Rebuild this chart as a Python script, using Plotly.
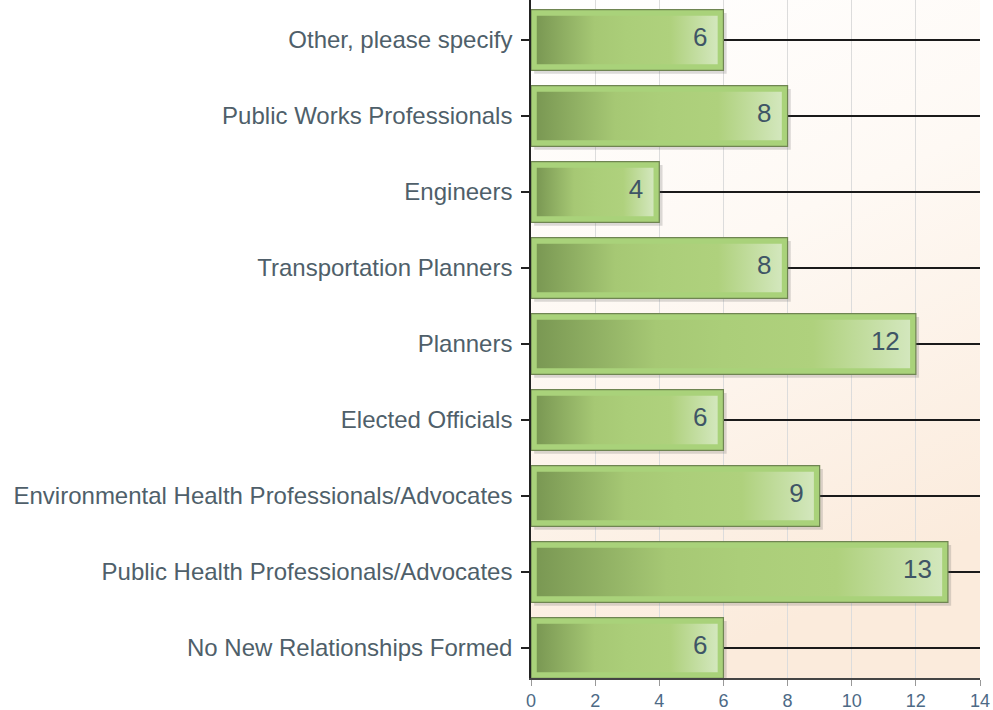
import base64
import plotly.graph_objects as go

# categories bottom -> top, as they appear on the chart
categorias = [
    "No New Relationships Formed",
    "Public Health Professionals/Advocates",
    "Environmental Health Professionals/Advocates",
    "Elected Officials",
    "Planners",
    "Transportation Planners",
    "Engineers",
    "Public Works Professionals",
    "Other, please specify",
]
valores = [6, 13, 9, 6, 12, 8, 4, 8, 6]
ticks_x = [0, 2, 4, 6, 8, 10, 12, 14]

posicoes = list(range(len(categorias)))

COR_TEXTO = "#4f5f6a"
FONTE = "Liberation Sans, Arial, sans-serif"
LARGURA_BARRA = 0.8
INSET_X = 0.18   # ~6px
INSET_Y = 0.08   # ~6px

# fundo em degradê (branco -> pêssego) como imagem svg
svg = (
    "<svg xmlns='http://www.w3.org/2000/svg' width='100' height='100' preserveAspectRatio='none'>"
    "<defs><linearGradient id='g' x1='0' y1='0' x2='0.3' y2='1'>"
    "<stop offset='0' stop-color='#ffffff'/>"
    "<stop offset='0.45' stop-color='#fef9f4'/>"
    "<stop offset='1' stop-color='#fbebdc'/>"
    "</linearGradient></defs>"
    "<rect width='100' height='100' fill='url(#g)'/></svg>"
)
fundo = "data:image/svg+xml;base64," + base64.b64encode(svg.encode()).decode()

fig = go.Figure()

# sombra
fig.add_trace(go.Bar(
    x=valores, y=posicoes, base=0.1, orientation="h",
    width=LARGURA_BARRA, offset=-LARGURA_BARRA / 2 - 0.045,
    marker=dict(color="rgba(80,80,80,0.2)", line=dict(width=0)),
    hoverinfo="skip", showlegend=False,
))

# barra externa (borda verde clara)
fig.add_trace(go.Bar(
    x=valores, y=posicoes, orientation="h", width=LARGURA_BARRA,
    marker=dict(color="#a9d27a", line=dict(color="#6f8552", width=1.2)),
    hoverinfo="skip", showlegend=False,
))

# miolo em degradê horizontal
escala = [
    [0.0, "#7a9853"],
    [0.32, "#a6c874"],
    [0.5, "#abce79"],
    [0.74, "#afd17d"],
    [1.0, "#d3e7bd"],
]
h = LARGURA_BARRA / 2 - INSET_Y
for v, p in zip(valores, posicoes):
    x0, x1 = INSET_X, v - INSET_X
    fig.add_trace(go.Scatter(
        x=[x0, x1, x1, x0, x0], y=[p - h, p - h, p + h, p + h, p - h],
        mode="lines", fill="toself", line=dict(width=0),
        fillgradient=dict(type="horizontal", colorscale=escala),
        hoverinfo="skip", showlegend=False,
    ))

# rótulos de valor
fig.add_trace(go.Scatter(
    x=[v - 0.5 for v in valores], y=posicoes, mode="text",
    text=[str(v) for v in valores], textposition="middle left",
    textfont=dict(family=FONTE, size=26, color="#3f5566"),
    hoverinfo="skip", showlegend=False,
))

fig.update_layout(
    width=993, height=710,
    margin=dict(l=531, r=13, t=0, b=32),
    barmode="overlay",
    plot_bgcolor="rgba(0,0,0,0)",
    paper_bgcolor="white",
    font=dict(family=FONTE, color=COR_TEXTO),
    images=[dict(
        source=fundo, xref="paper", yref="paper", x=0, y=1,
        sizex=1, sizey=1, xanchor="left", yanchor="top",
        sizing="stretch", layer="below",
    )],
)

fig.update_xaxes(
    range=[0, 14], tickvals=ticks_x,
    showgrid=True, gridcolor="#dcdcdc", gridwidth=1,
    zeroline=False,
    showline=True, linecolor="#444", linewidth=1.5,
    ticks="outside", ticklen=6, tickcolor="#999", tickwidth=1,
    tickfont=dict(size=18, color="#4d6a86"),
)

fig.update_yaxes(
    range=[-0.395, 8.526],
    tickvals=posicoes, ticktext=categorias,
    showgrid=True, gridcolor="#1a1a1a", gridwidth=1.5,
    zeroline=False,
    showline=True, linecolor="#222", linewidth=1.5,
    ticks="outside", ticklen=8, tickcolor="#222", tickwidth=1.5,
    ticklabelstandoff=4,
    tickfont=dict(size=24, color=COR_TEXTO),
)

# sem margem do body, para o gráfico ocupar a janela inteira
fig.write_html(
    "out.html",
    config={"displayModeBar": False},
    post_script="document.body.style.margin='0';",
)
